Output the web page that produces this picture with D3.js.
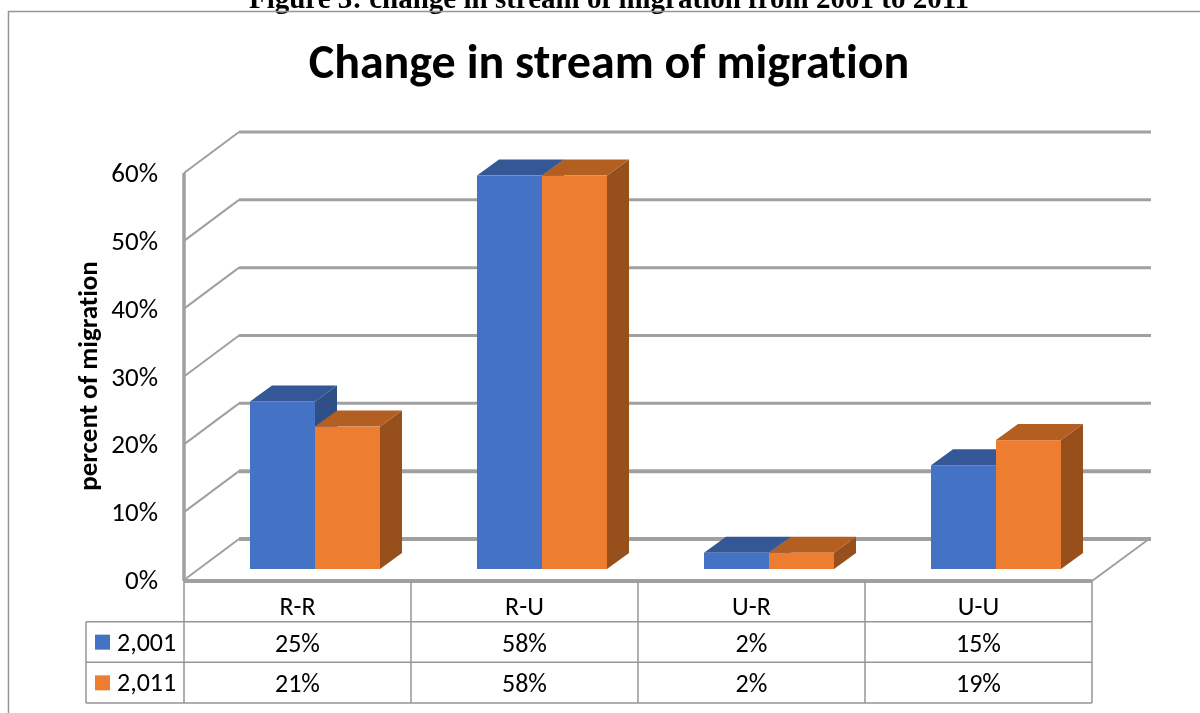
<!DOCTYPE html>
<html>
<head>
<meta charset="utf-8">
<script src="https://cdn.jsdelivr.net/npm/d3@7"></script>
<style>
  html, body { margin: 0; padding: 0; background: #fff; overflow: hidden; }
  svg { display: block; filter: blur(0.5px); font-variant-ligatures: none; }
</style>
</head>
<body>
<div id="chart"></div>
<script>
var categories = ['R-R', 'R-U', 'U-R', 'U-U'];
var seriesNames = ['2,001', '2,011'];
var values2001 = [24.7, 58, 2.4, 15.3];
var values2011 = [21, 58, 2.4, 19];
var labels2001 = ['25%', '58%', '2%', '15%'];
var labels2011 = ['21%', '58%', '2%', '19%'];
var yTicks = [0, 10, 20, 30, 40, 50, 60];
var colors = ['#4472c4', '#ed7d31'];
var topColors = ['#345895', '#b45f22'];
var sideColors = ['#2f5086', '#974f1c'];

var FONT = 'Carlito, "Open Sans", "Noto Sans", sans-serif';
var w = 1200, h = 713;
var svg = d3.select('#chart').append('svg').attr('width', w).attr('height', h);

// depth of the 3d floor and of the bars
var wallDx = 55, wallDy = -41;
var barDx = 22, barDy = -16;

var x = d3.scaleBand().domain(categories).range([184, 1092]);
var yFront = d3.scaleLinear().domain([0, 60]).range([580, 173]);
var yBar = d3.scaleLinear().domain([0, 60]).range([569, 162]);
var gridColor = '#a0a0a0';

// Caption, cut off by the top of the page
svg.append('text').attr('x', 609).attr('y', 8)
  .attr('text-anchor', 'middle').attr('font-family', '"Liberation Serif", serif')
  .attr('font-weight', 700).attr('font-size', '29px').attr('fill', '#000')
  .text('Figure 3: change in stream of migration from 2001 to 2011');

// Frame
svg.append('path').attr('d', 'M8.5,713V11.5H1200').attr('fill', 'none').attr('stroke', '#969696').attr('stroke-width', 1.5);

svg.append('text').attr('x', 609).attr('y', 78)
  .attr('text-anchor', 'middle').attr('font-family', FONT).attr('font-weight', 700)
  .attr('font-size', '48px').attr('fill', '#000')
  .text('Change in stream of migration');

// Grid on wall + side wall
yTicks.forEach(function(t) {
  var y0 = yFront(t);
  var x0 = x.range()[0] + wallDx;
  svg.append('line').attr('x1', x.range()[0]).attr('y1', y0).attr('x2', x0).attr('y2', y0 + wallDy)
    .attr('stroke', gridColor).attr('stroke-width', 2);
  svg.append('line').attr('x1', x0).attr('y1', y0 + wallDy).attr('x2', 1151).attr('y2', y0 + wallDy)
    .attr('stroke', gridColor).attr('stroke-width', t < 20 ? 4 : 3);
});
// Floor
svg.append('path')
  .attr('d', d3.line()([[x.range()[0], yFront(0) + 1], [x.range()[1], yFront(0) + 1]]))
  .attr('stroke', gridColor).attr('stroke-width', 4);
svg.append('path')
  .attr('d', d3.line()([[x.range()[1], yFront(0) + 1], [x.range()[1] + wallDx + 2, yFront(0) + wallDy]]))
  .attr('stroke', gridColor).attr('stroke-width', 2);
svg.append('path')
  .attr('d', d3.line()([[x.range()[0], yFront(0) + 1], [x.range()[0], yFront(60)]]))
  .attr('stroke', gridColor).attr('stroke-width', 3.5);

// Y tick labels
svg.append('g').selectAll('text').data(yTicks).join('text')
  .attr('x', 158).attr('y', function(d) { return yFront(d) + 9; })
  .attr('text-anchor', 'end').attr('font-family', FONT).attr('font-size', '27px').attr('fill', '#000')
  .text(function(d) { return d + '%'; });

svg.append('text').attr('transform', 'translate(97,376) rotate(-90)')
  .attr('text-anchor', 'middle').attr('font-family', FONT).attr('font-weight', 700)
  .attr('font-size', '27px').attr('fill', '#000').text('percent of migration');

// Bars
var barW = 65;
function drawBar(g, cat, val, i) {
  var x0 = x(cat) + 66 + i * barW, x1 = x0 + barW;
  var y0 = yBar(0), y1 = yBar(val);
  g.append('path').attr('fill', sideColors[i])
    .attr('d', d3.line()([[x1, y1], [x1 + barDx, y1 + barDy], [x1 + barDx, y0 + barDy], [x1, y0]]) + 'Z');
  g.append('path').attr('fill', topColors[i])
    .attr('d', d3.line()([[x0, y1], [x0 + barDx, y1 + barDy], [x1 + barDx, y1 + barDy], [x1, y1]]) + 'Z');
  g.append('rect').attr('x', x0).attr('y', y1).attr('width', barW).attr('height', y0 - y1).attr('fill', colors[i]);
}
var bars = svg.append('g');
categories.forEach(function(c, k) {
  drawBar(bars, c, values2001[k], 0);
  drawBar(bars, c, values2011[k], 1);
});

// Data table
var tableColor = '#969696';
var rowY = d3.scaleBand().domain(['head', '0', '1']).range([581, 703]);
var tbl = svg.append('g').attr('stroke', tableColor).attr('stroke-width', 1.5);
var edges = x.domain().map(function(c) { return x(c); }).concat([x.range()[1]]);
edges.forEach(function(e) { tbl.append('line').attr('x1', e).attr('x2', e).attr('y1', 581).attr('y2', 703); });
tbl.append('line').attr('x1', 86).attr('x2', 86).attr('y1', rowY('0')).attr('y2', 703);
[rowY('0'), rowY('1'), 703].forEach(function(y) {
  tbl.append('line').attr('x1', 86).attr('x2', x.range()[1]).attr('y1', y).attr('y2', y);
});

function cellText(px, py, txt, anchor) {
  svg.append('text').attr('x', px).attr('y', py).attr('text-anchor', anchor || 'middle')
    .attr('font-family', FONT).attr('font-size', '26px').attr('fill', '#000').text(txt);
}
categories.forEach(function(c, k) {
  var cx = x(c) + x.bandwidth() / 2;
  cellText(cx, rowY('head') + 34, c);
  cellText(cx, rowY('0') + 30, labels2001[k]);
  cellText(cx, rowY('1') + 30, labels2011[k]);
});
seriesNames.forEach(function(n, i) {
  var ry = rowY(String(i));
  svg.append('rect').attr('x', 95).attr('y', ry + 13).attr('width', 15).attr('height', 15).attr('fill', colors[i]);
  cellText(117, ry + 29, n, 'start');
});
</script>
</body>
</html>
